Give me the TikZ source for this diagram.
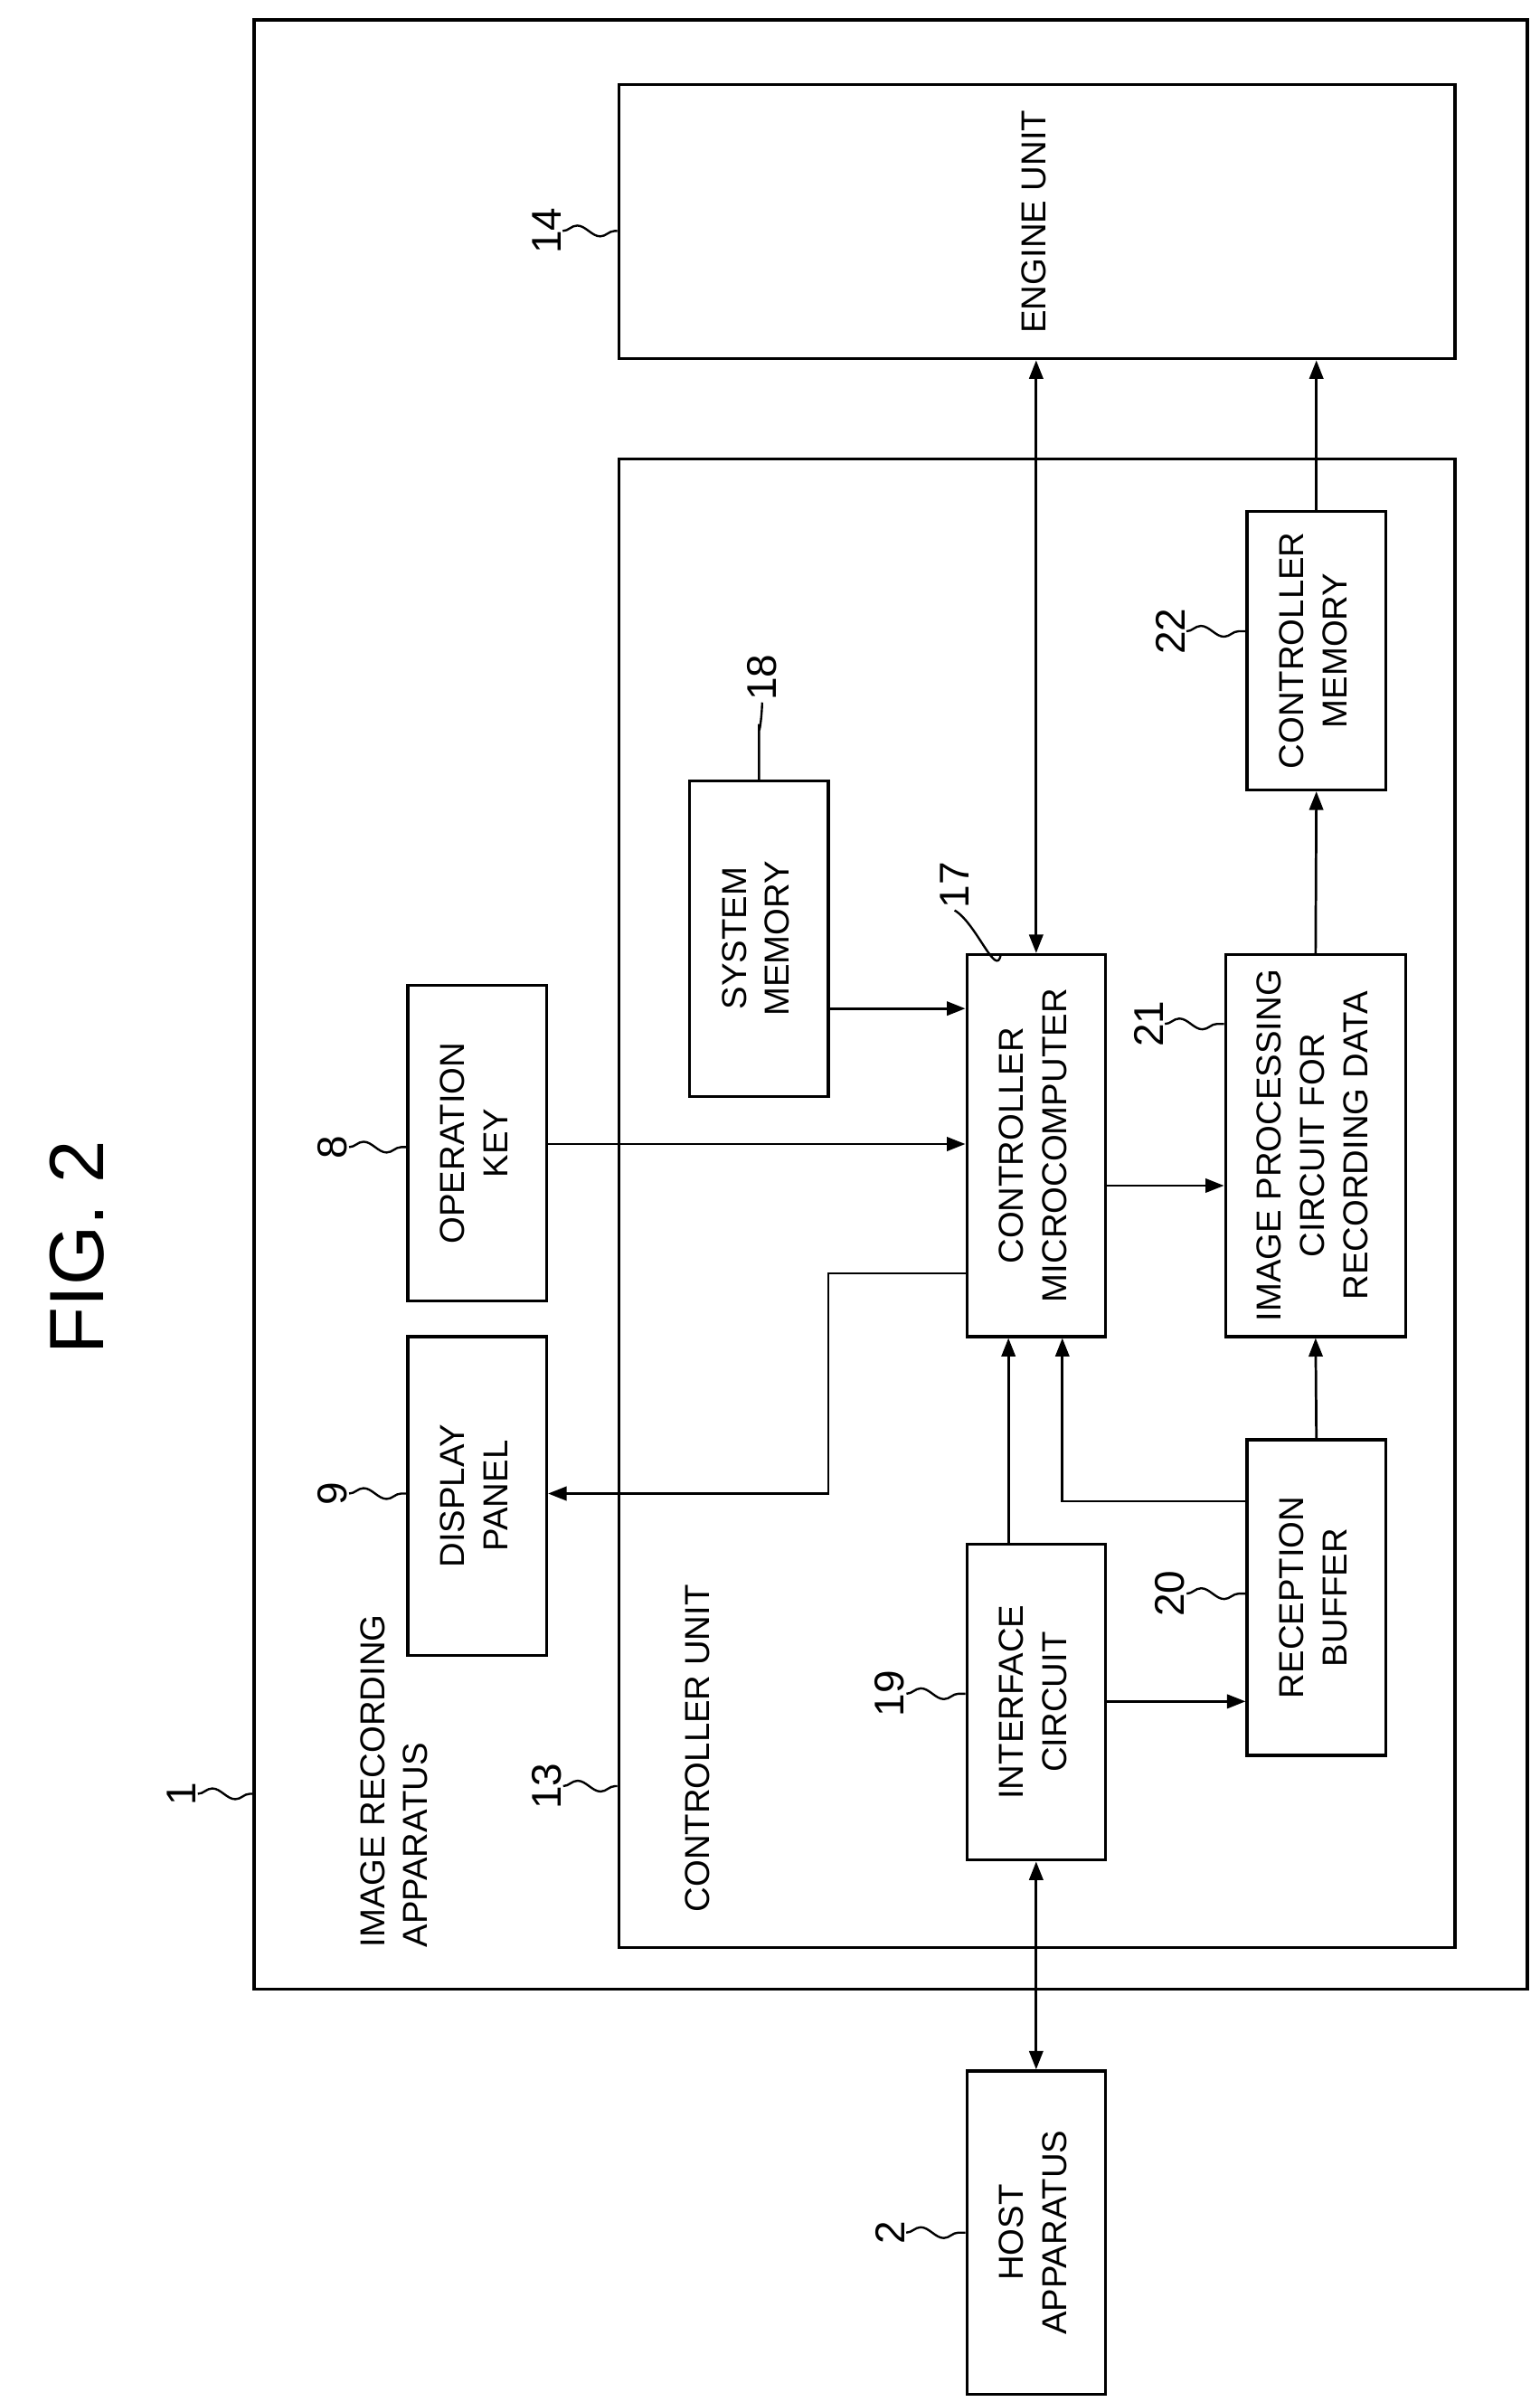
\documentclass[tikz,border=0pt]{standalone}
\usepackage{fontspec}
\setmainfont{Liberation Sans}
\usetikzlibrary{decorations.pathmorphing,arrows.meta}
\begin{document}
\begin{tikzpicture}[x=1pt,y=-1pt,
  box/.style={draw,line width=2pt,inner sep=0pt,font=\fontsize{22.5}{28}\selectfont},
  num/.style={inner sep=1pt,font=\fontsize{27}{29}\selectfont},
  sq/.style={line width=1.4pt,decorate,decoration={snake,amplitude=3.5pt,segment length=30pt}},
  ar/.style={line width=1.6pt,-{Triangle[length=12pt,width=9pt]}},
  dar/.style={line width=1.6pt,{Triangle[length=12pt,width=9pt]}-{Triangle[length=12pt,width=9pt]}}]
\newcommand{\rt}[1]{\rotatebox{90}{\begin{tabular}{@{}c@{}}#1\end{tabular}}}
\useasboundingbox (0,0) rectangle (1000,1560);
\node[font=\fontsize{50}{52}\selectfont] (fig) at (50,810) {\rotatebox{90}{FIG. 2}};
\node[box,minimum width=827pt,minimum height=1279pt] (app) at (578.5,652.5) {};
\node[font=\fontsize{22.5}{28}\selectfont,anchor=south west,inner sep=0pt] (apptxt) at (230,1265) {\rotatebox{90}{\begin{tabular}{@{}l@{}}IMAGE RECORDING\\APPARATUS\end{tabular}}};
\node[box,minimum width=543pt,minimum height=178pt] (eng) at (673.5,144) {\rt{ENGINE UNIT}};
\node[box,minimum width=543pt,minimum height=967pt] (cu) at (673.5,781.5) {};
\node[font=\fontsize{22.5}{28}\selectfont,anchor=south west,inner sep=0pt] (cutxt) at (445,1242) {\rotatebox{90}{CONTROLLER UNIT}};
\node[box,minimum width=90pt,minimum height=181pt] (cm) at (855,422.5) {\rt{CONTROLLER\\MEMORY}};
\node[box,minimum width=117pt,minimum height=248pt] (ip) at (854.5,744) {\rt{IMAGE PROCESSING\\CIRCUIT FOR\\RECORDING DATA}};
\node[box,minimum width=90pt,minimum height=205pt] (rb) at (855,1037.5) {\rt{RECEPTION\\BUFFER}};
\node[box,minimum width=90pt,minimum height=248pt] (mc) at (673,744) {\rt{CONTROLLER\\MICROCOMPUTER}};
\node[box,minimum width=90pt,minimum height=205pt] (sm) at (493,609.5) {\rt{SYSTEM\\MEMORY}};
\node[box,minimum width=90pt,minimum height=205pt] (ic) at (673,1105.5) {\rt{INTERFACE\\CIRCUIT}};
\node[box,minimum width=90pt,minimum height=205pt] (ok) at (310,742.5) {\rt{OPERATION\\KEY}};
\node[box,minimum width=90pt,minimum height=207pt] (dp) at (310,971.5) {\rt{DISPLAY\\PANEL}};
\node[box,minimum width=90pt,minimum height=210pt] (host) at (673,1450) {\rt{HOST\\APPARATUS}};
\draw[dar] (eng.south-|mc.north) -- (mc.north);
\draw[ar] (cm.north) -- (eng.south-|cm.north);
\draw[ar] (ip.north) -- (cm.south);
\draw[ar] (rb.north) -- (ip.south);
\draw[ar] (mc.east|-0,770) -- (ip.west|-0,770);
\draw[ar] (sm.east|-0,655) -- (mc.west|-0,655);
\draw[ar] (ok.east|-0,743) -- (mc.west|-0,743);
\coordinate (d1) at (538,827); \coordinate (d2) at (538,970);
\draw[ar] (mc.west|-d1) -- (d1) -- (d2) -- (dp.east|-d2);
\draw[ar] (ic.north-|655,0) -- (mc.south-|655,0);
\coordinate (r1) at (690,975);
\draw[ar] (rb.west|-r1) -- (r1) -- (mc.south-|r1);
\draw[ar] (ic.east|-0,1105) -- (rb.west|-0,1105);
\draw[dar] (ic.south) -- (host.north);
\node[num] (n1) at (118,1165) {\rotatebox{90}{1}};
\draw[sq] (n1.east) -- (app.west|-n1.east);
\node[num] (n14) at (355,150) {\rotatebox{90}{14}};
\draw[sq] (n14.east) -- (eng.west|-n14.east);
\node[num] (n13) at (355,1160) {\rotatebox{90}{13}};
\draw[sq] (n13.east) -- (cu.west|-n13.east);
\node[num] (n9) at (216,970) {\rotatebox{90}{9}};
\draw[sq] (n9.east) -- (dp.west|-n9.east);
\node[num] (n8) at (216,745) {\rotatebox{90}{8}};
\draw[sq] (n8.east) -- (ok.west|-n8.east);
\node[num] (n19) at (578,1100) {\rotatebox{90}{19}};
\draw[sq] (n19.east) -- (ic.west|-n19.east);
\node[num] (n20) at (760,1035) {\rotatebox{90}{20}};
\draw[sq] (n20.east) -- (rb.west|-n20.east);
\node[num] (n21) at (746,665) {\rotatebox{90}{21}};
\draw[sq] (n21.east) -- (ip.west|-n21.east);
\node[num] (n22) at (760,410) {\rotatebox{90}{22}};
\draw[sq] (n22.east) -- (cm.west|-n22.east);
\node[num] (n2) at (578,1450) {\rotatebox{90}{2}};
\draw[sq] (n2.east) -- (host.west|-n2.east);
\node[num] (n18) at (495,440) {\rotatebox{90}{18}};
\draw[line width=1.4pt] (n18.south) to[out=-90,in=-90,looseness=1.2] (493,472) to[out=90,in=-90] (sm.north);
\node[num] (n17) at (620,575) {\rotatebox{90}{17}};
\draw[line width=1.4pt] (n17.south) to[out=-30,in=-100] (650,620);
\end{tikzpicture}
\end{document}
